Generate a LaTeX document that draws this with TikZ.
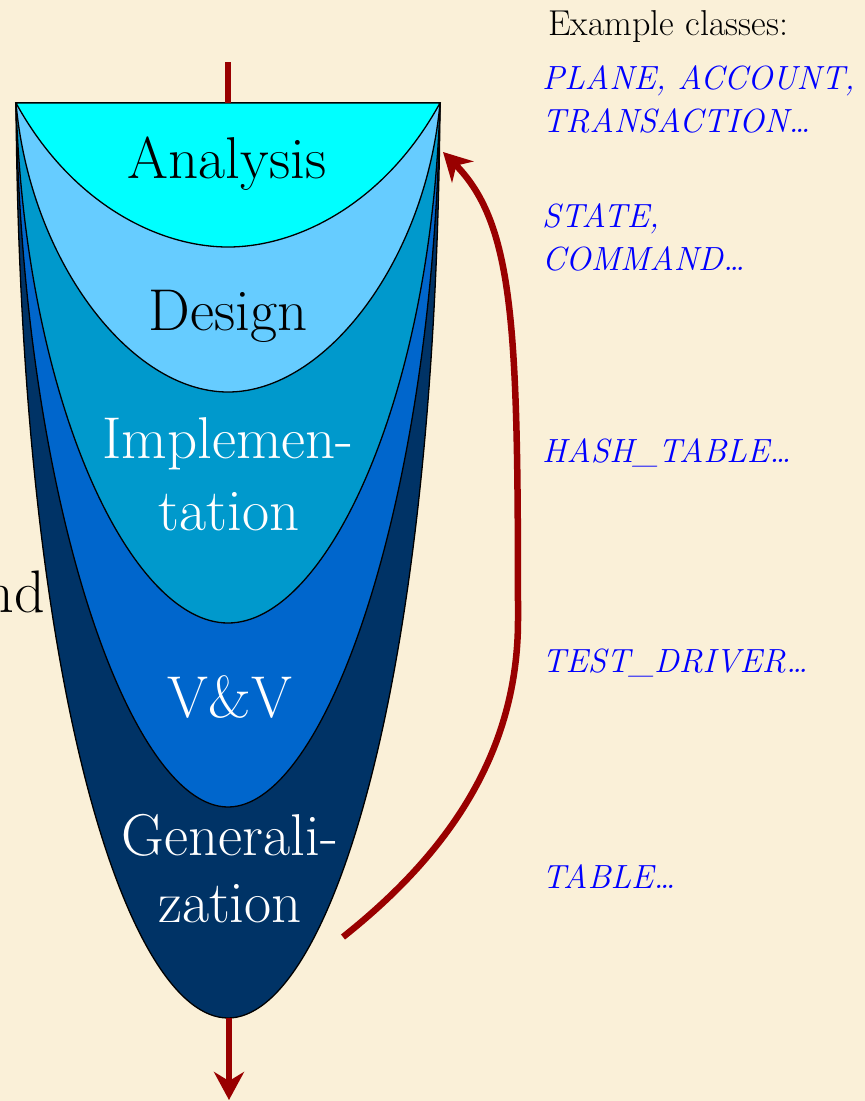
\documentclass[tikz,border=0pt]{standalone}
\usetikzlibrary{arrows.meta}
\definecolor{parch}{HTML}{FAF0D8}
\definecolor{cA}{HTML}{00FFFF}
\definecolor{cD}{HTML}{66CCFF}
\definecolor{cI}{HTML}{0099CC}
\definecolor{cV}{HTML}{0066CC}
\definecolor{cG}{HTML}{003366}
\definecolor{darkred}{HTML}{990000}
\definecolor{classblue}{HTML}{0000FF}
\begin{document}
\begin{tikzpicture}[x=1pt,y=-1pt,
  layer/.style={draw=black, line width=1.3pt},
  phase/.style={anchor=base, inner sep=0pt, font=\fontsize{59}{60}\selectfont},
  cls/.style={anchor=base west, inner sep=0pt, text=classblue, align=left,
              font=\fontsize{33.5}{43}\selectfont\itshape},
  redline/.style={draw=darkred, line width=6.5pt},
  redarrow/.style={redline, -{Stealth[length=28pt,width=30pt,inset=9pt]}}]
\useasboundingbox (0,0) rectangle (865,1101);
\fill[parch] (0,0) rectangle (865,1101);
\begin{scope}
\clip (0,0) rectangle (865,1101);
\node[anchor=base east, inner sep=0pt, font=\fontsize{60}{60}\selectfont] (cut) at (45,612) {nd};
\end{scope}
% nested phases (outermost first)
\filldraw[layer, fill=cG] (16,103) .. controls (20,700) and (130,1018) .. (228,1018)
   .. controls (326,1018) and (436,700) .. (440,103) -- cycle;
\filldraw[layer, fill=cV] (16,103) .. controls (22,500) and (130,807) .. (228,807)
   .. controls (326,807) and (434,500) .. (440,103) -- cycle;
\filldraw[layer, fill=cI] (16,103) .. controls (25,400) and (130,623) .. (228,623)
   .. controls (326,623) and (431,400) .. (440,103) -- cycle;
\filldraw[layer, fill=cD] (16,103) .. controls (30,260) and (130,392) .. (228,392)
   .. controls (326,392) and (426,260) .. (440,103) -- cycle;
\filldraw[layer, fill=cA] (16,103) .. controls (72,205) and (160,247) .. (228,247)
   .. controls (296,247) and (384,205) .. (440,103) -- cycle;
% labels
\node[phase] (ana) at (227,178) {Analysis};
\node[phase] (des) at (228,330) {Design};
\node[phase, text=white] (imp1) at (228,458) {Implemen-};
\node[phase, text=white] (imp2) at (229,530) {tation};
\node[phase, text=white] (vv) at (230,717) {V\&V};
\node[phase, text=white] (gen1) at (230,855) {Generali-};
\node[phase, text=white] (gen2) at (230,922) {zation};
% arrows
\coordinate (inS) at (228,62);
\coordinate (inE) at (228,103);
\draw[redline] (inS) -- (inE);
\coordinate (outS) at (229,1018);
\coordinate (outE) at (229,1100);
\draw[redarrow] (outS) -- (outE);
\coordinate (loopS) at (343,937);
\coordinate (loopM) at (518,620);
\coordinate (loopE) at (443,152);
\draw[redarrow] (loopS) .. controls (440,860) and (518,760) .. (loopM)
   .. controls (518,330) and (515,225) .. (loopE);
% example classes
\node[anchor=base west, inner sep=0pt, font=\fontsize{36}{40}\selectfont] (ex) at (548,35) {Example classes:};
\node[cls] (c1) at (542,132) {PLANE, ACCOUNT,\\TRANSACTION\ldots};
\node[cls] (c2) at (542,270) {STATE,\\COMMAND\ldots};
\node[cls] (c3) at (542,462) {HASH\_TABLE\ldots};
\node[cls] (c4) at (542,672) {TEST\_DRIVER\ldots};
\node[cls] (c5) at (542,888) {TABLE\ldots};
\end{tikzpicture}
\end{document}
